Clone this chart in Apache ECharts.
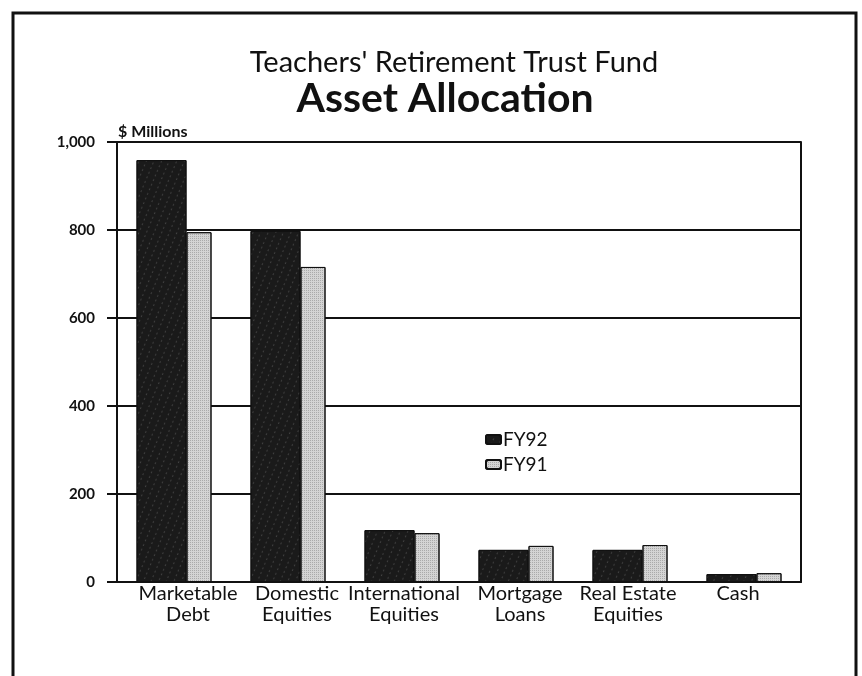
<!DOCTYPE html>
<html><head><meta charset="utf-8">
<script src="https://cdn.jsdelivr.net/npm/echarts@6/dist/echarts.min.js"></script>
<style>html,body{margin:0;padding:0;background:#fff}#c{width:862px;height:676px}</style>
</head><body><div id="c"></div>
<script>
const categories = ['Marketable\nDebt', 'Domestic\nEquities', 'International\nEquities', 'Mortgage\nLoans', 'Real Estate\nEquities', 'Cash'];
const fy92 = [959, 798, 118, 73, 73, 18];
const fy91 = [795, 716, 111, 82, 84, 20];
const yTicks = [0, 200, 400, 600, 800, 1000];

// layout only: horizontal nudge (px) of each category label, as in the original print
const labelShift = [14, 9, 2, 4, -2, -6];

const FONT = 'Lato, "Open Sans", sans-serif';
const xData = categories.map((c, i) => {
  const s = labelShift[i];
  return { value: c, textStyle: { padding: s >= 0 ? [0, 0, 0, 2 * s] : [0, -2 * s, 0, 0] } };
});

const chart = echarts.init(document.getElementById('c'));
chart.setOption({
  backgroundColor: '#fff',
  animation: false,
  textStyle: { fontFamily: FONT, color: '#111' },
  title: [
    { text: "Teachers' Retirement Trust Fund", left: 449, top: 43, textAlign: 'center',
      textStyle: { fontFamily: FONT, fontSize: 29, fontWeight: 'normal', color: '#111' } },
    { text: 'Asset Allocation', left: 440, top: 73, textAlign: 'center',
      textStyle: { fontFamily: FONT, fontSize: 41, fontWeight: 'bold', color: '#111' } },
    { text: '$ Millions', left: 113, top: 119,
      textStyle: { fontFamily: FONT, fontSize: 16, fontWeight: 'bold', color: '#111' } }
  ],
  graphic: [
    { type: 'rect', shape: { x: 13, y: 13, width: 843, height: 700 }, style: { fill: 'none', stroke: '#111', lineWidth: 3 }, silent: true }
  ],
  legend: {
    orient: 'vertical', left: 480, top: 425, itemWidth: 15, itemHeight: 9, itemGap: 6,
    textStyle: { fontFamily: FONT, fontSize: 19, color: '#111', padding: [0,0,0,-3] },
    data: ['FY92', 'FY91']
  },
  grid: { left: 117, right: 61, top: 142, bottom: 94 },
  xAxis: {
    type: 'category', data: xData,
    axisLine: { show: true, lineStyle: { color: '#111', width: 2 } },
    axisTick: { show: false },
    axisLabel: { interval: 0, fontFamily: FONT, fontSize: 20, color: '#111', lineHeight: 21, margin: 1 }
  },
  yAxis: [{
    type: 'value', min: 0, max: 1000, interval: 200,
    axisLine: { show: true, lineStyle: { color: '#111', width: 2 } },
    axisTick: { show: true, length: 10, lineStyle: { color: '#111', width: 2 } },
    axisLabel: { fontFamily: FONT, fontSize: 15, fontWeight: 'bold', color: '#111', margin: 22,
      formatter: v => yTicks.includes(v) ? (v >= 1000 ? '1,000' : String(v)) : '' },
    splitLine: { show: true, lineStyle: { color: '#111', width: 1.8 } }
  }, {
    type: 'value', min: 0, max: 1000, interval: 200, position: 'right',
    axisLine: { show: true, lineStyle: { color: '#111', width: 2 } },
    axisTick: { show: false }, axisLabel: { show: false }, splitLine: { show: false }
  }],
  series: [
    { name: 'FY92', type: 'bar', data: fy92, barWidth: 50, barGap: '0%',
      itemStyle: { color: '#1a1a1a', borderColor: '#111', borderWidth: 1,
        decal: { symbol: 'circle', symbolSize: 0.6, color: 'rgba(255,255,255,0.35)', dashArrayX: [[3, 4]], dashArrayY: [2, 3], rotation: 0.4 } } },
    { name: 'FY91', type: 'bar', data: fy91, barWidth: 25, barGap: '0%',
      itemStyle: { color: '#d4d4d4', borderColor: '#111', borderWidth: 1,
        decal: { symbol: 'rect', symbolSize: 1, color: 'rgba(120,120,120,0.45)', dashArrayX: [[1, 1]], dashArrayY: [1, 1], rotation: 0 } } }
  ]
});
</script></body></html>
